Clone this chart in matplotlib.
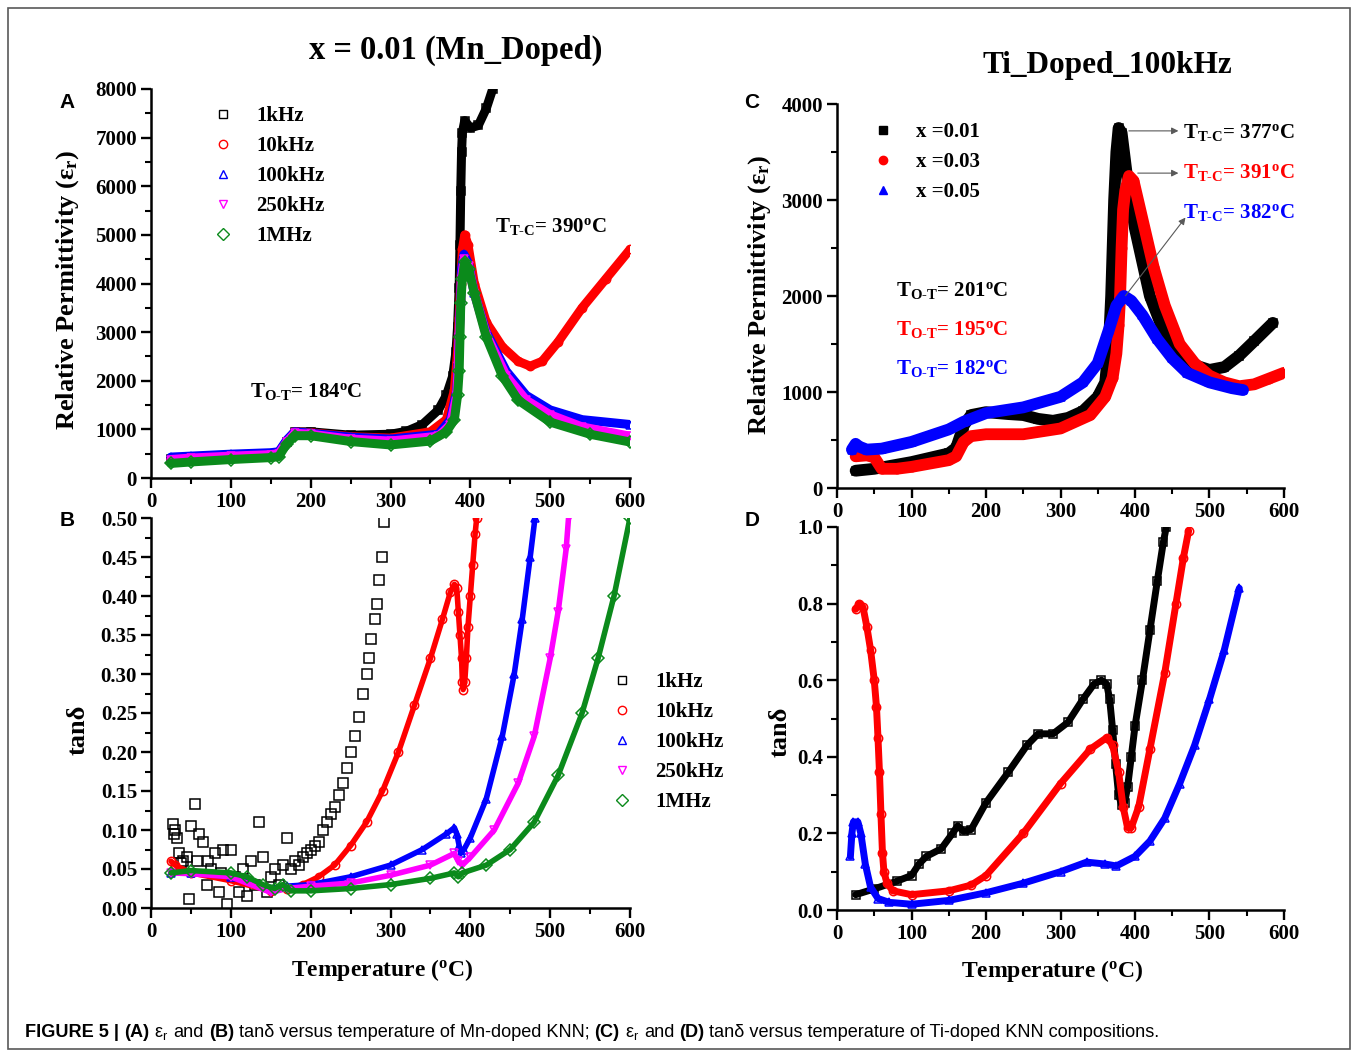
import matplotlib
matplotlib.use('Agg')
import matplotlib.pyplot as plt
from matplotlib.ticker import MultipleLocator, FormatStrFormatter
from matplotlib.lines import Line2D
from matplotlib.patches import Rectangle
from matplotlib import font_manager

plt.rcParams['font.family'] = 'Liberation Serif'
plt.rcParams['font.weight'] = 'bold'
plt.rcParams['mathtext.default'] = 'regular'

W, H = 1357, 1051

## ---- panel A : relative permittivity, Mn doped, five frequencies ----
A_T_1k = [25, 50, 100, 150, 160, 170, 180, 200, 250, 300, 320, 340, 360, 370, 378, 382, 384, 386, 387, 388, 389, 390, 393, 400, 410, 420, 428]
A_E_1k = [400, 430, 470, 490, 520, 750, 950, 950, 880, 900, 960, 1100, 1400, 1700, 2100, 2600, 3100, 3900, 4800, 5900, 6700, 7100, 7350, 7200, 7250, 7600, 8000]
A_T_10k = [25, 50, 100, 150, 160, 170, 180, 200, 250, 300, 350, 370, 380, 384, 386, 388, 390, 393, 397, 405, 420, 440, 460, 475, 490, 510, 540, 570, 600]
A_E_10k = [380, 410, 460, 490, 520, 760, 950, 930, 850, 820, 950, 1200, 1800, 2600, 3300, 4000, 4700, 5000, 4800, 4000, 3200, 2700, 2400, 2300, 2400, 2800, 3500, 4100, 4700]
A_T_100k = [25, 50, 100, 150, 160, 170, 180, 200, 250, 300, 360, 375, 383, 385, 386, 388, 389, 392, 398, 405, 420, 445, 470, 500, 540, 600]
A_E_100k = [430, 450, 490, 520, 540, 780, 950, 920, 840, 800, 900, 1200, 1800, 2400, 3000, 3700, 4300, 4600, 4400, 3800, 3000, 2200, 1700, 1400, 1200, 1100]
A_T_250k = [25, 50, 100, 150, 160, 170, 180, 200, 250, 300, 360, 375, 383, 385, 386, 388, 389, 392, 398, 405, 420, 445, 470, 500, 540, 600]
A_E_250k = [380, 410, 450, 480, 500, 740, 920, 900, 800, 760, 860, 1100, 1700, 2300, 2900, 3600, 4100, 4500, 4350, 3800, 2950, 2100, 1600, 1300, 1050, 860]
A_T_1M = [25, 50, 100, 150, 160, 170, 180, 200, 250, 300, 350, 370, 380, 384, 386, 387, 388, 390, 393, 398, 405, 420, 440, 460, 500, 550, 600]
A_E_1M = [300, 330, 380, 420, 440, 700, 870, 870, 750, 680, 760, 950, 1200, 1700, 2200, 2900, 3600, 4100, 4450, 4300, 3800, 2900, 2100, 1600, 1150, 900, 740]

## ---- panel B : tan delta, Mn doped ----
B_T_1k = [27, 29, 30, 32, 35, 38, 40, 45, 48, 50, 55, 58, 60, 65, 70, 72, 75, 80, 85, 88, 90, 95, 100, 105, 110, 115, 120, 125,
          130, 135, 140, 145, 150, 155, 160, 165, 170, 175, 180, 185, 190, 195, 200, 205, 210, 215, 220, 225, 230, 235, 240,
          245, 250, 255, 260, 265, 270, 273, 276, 280, 283, 286, 289, 292]
B_V_1k = [0.108, 0.095, 0.1, 0.09, 0.07, 0.058, 0.06, 0.065, 0.012, 0.105, 0.133, 0.06, 0.095, 0.085, 0.03, 0.06, 0.05, 0.07, 0.02,
          0.045, 0.075, 0.005, 0.075, 0.04, 0.02, 0.05, 0.015, 0.06, 0.03, 0.11, 0.065, 0.02, 0.04, 0.05, 0.03, 0.055, 0.09,
          0.05, 0.06, 0.055, 0.065, 0.07, 0.075, 0.08, 0.085, 0.1, 0.11, 0.12, 0.13, 0.145, 0.16, 0.18, 0.2, 0.22, 0.245,
          0.275, 0.3, 0.32, 0.345, 0.37, 0.39, 0.42, 0.45, 0.495]
B_T_10k = [25, 30, 50, 100, 150, 170, 190, 210, 230, 250, 270, 290, 310, 330, 350, 365, 375, 380, 383, 385, 387, 389, 390, 391,
           393, 395, 397, 400, 403, 406, 408]
B_V_10k = [0.06, 0.055, 0.045, 0.035, 0.022, 0.025, 0.03, 0.04, 0.055, 0.08, 0.11, 0.15, 0.2, 0.26, 0.32, 0.37, 0.405, 0.415,
           0.41, 0.38, 0.35, 0.32, 0.29, 0.28, 0.29, 0.32, 0.36, 0.4, 0.44, 0.48, 0.5]
B_T_100k = [25, 50, 100, 150, 170, 200, 250, 300, 340, 370, 380, 383, 386, 388, 392, 400, 420, 440, 455, 465, 475, 481]
B_V_100k = [0.045, 0.045, 0.04, 0.025, 0.028, 0.03, 0.04, 0.055, 0.075, 0.095, 0.103, 0.095, 0.08, 0.07, 0.075, 0.09, 0.14,
            0.22, 0.3, 0.37, 0.45, 0.5]
B_T_250k = [25, 50, 100, 150, 170, 200, 250, 300, 350, 380, 385, 390, 400, 430, 460, 480, 500, 510, 520, 523]
B_V_250k = [0.045, 0.044, 0.04, 0.02, 0.025, 0.028, 0.032, 0.042, 0.055, 0.07, 0.06, 0.055, 0.065, 0.1, 0.16, 0.22, 0.32,
            0.38, 0.46, 0.5]
B_T_1M = [25, 50, 100, 120, 140, 155, 165, 175, 200, 250, 300, 350, 380, 385, 390, 420, 450, 480, 510, 540, 560, 580, 600]
B_V_1M = [0.045, 0.048, 0.045, 0.04, 0.03, 0.025, 0.03, 0.022, 0.022, 0.025, 0.03, 0.038, 0.045, 0.04, 0.045, 0.055, 0.075,
          0.11, 0.17, 0.25, 0.32, 0.4, 0.5]

## ---- panel C : relative permittivity, Ti doped, 100 kHz ----
C_T_01 = [25, 50, 100, 150, 160, 170, 180, 200, 230, 250, 270, 290, 310, 330, 350, 360, 365, 368, 370, 372, 375, 378, 382,
          390, 400, 420, 440, 460, 480, 500, 520, 540, 560, 585]
C_E_01 = [180, 200, 270, 360, 420, 650, 760, 790, 770, 760, 720, 700, 730, 800, 950, 1100, 1500, 2000, 2500, 3000, 3500, 3750,
          3700, 3200, 2700, 2000, 1600, 1400, 1280, 1230, 1260, 1380, 1530, 1720]
C_T_03 = [25, 40, 50, 60, 80, 100, 150, 160, 170, 180, 200, 250, 300, 340, 360, 370, 375, 378, 380, 382, 384, 387, 392, 398,
          410, 425, 440, 460, 480, 500, 520, 540, 560, 580, 600]
C_E_03 = [330, 340, 320, 200, 200, 220, 290, 330, 480, 540, 560, 560, 620, 760, 950, 1150, 1400, 1700, 2000, 2500, 2900, 3100,
          3250, 3200, 2800, 2300, 1900, 1500, 1300, 1170, 1100, 1060, 1080, 1140, 1200]
C_T_05 = [20, 25, 30, 40, 60, 100, 150, 170, 200, 250, 300, 330, 350, 365, 375, 385, 395, 410, 430, 450, 470, 500, 530, 545]
C_E_05 = [400, 460, 430, 400, 410, 480, 610, 690, 780, 840, 950, 1100, 1300, 1650, 1900, 2000, 1950, 1800, 1550, 1350, 1200,
          1100, 1040, 1020]

## ---- panel D : tan delta, Ti doped ----
D_T_01 = [25, 50, 80, 100, 110, 120, 140, 155, 162, 170, 180, 200, 230, 255, 270, 290, 310, 330, 345, 355, 362, 366, 370, 374,
          378, 382, 386, 390, 395, 400, 410, 420, 430, 438, 442]
D_V_01 = [0.04, 0.055, 0.075, 0.09, 0.12, 0.14, 0.16, 0.2, 0.22, 0.205, 0.21, 0.28, 0.36, 0.43, 0.46, 0.46, 0.49, 0.55, 0.59,
          0.6, 0.59, 0.55, 0.47, 0.38, 0.3, 0.275, 0.28, 0.32, 0.4, 0.48, 0.6, 0.73, 0.86, 0.96, 1.0]
D_T_03 = [25, 30, 35, 40, 45, 50, 53, 55, 57, 59, 61, 63, 67, 75, 100, 150, 180, 200, 250, 300, 340, 362, 370, 378, 384, 390,
          395, 405, 420, 440, 455, 465, 472]
D_V_03 = [0.785, 0.8, 0.79, 0.74, 0.68, 0.6, 0.53, 0.45, 0.36, 0.25, 0.15, 0.1, 0.07, 0.05, 0.04, 0.05, 0.065, 0.09, 0.2, 0.33,
          0.42, 0.45, 0.43, 0.36, 0.27, 0.215, 0.215, 0.27, 0.42, 0.62, 0.8, 0.92, 0.99]
D_T_05 = [18, 20, 22, 28, 32, 38, 45, 55, 70, 100, 150, 200, 250, 300, 335, 360, 375, 400, 420, 440, 460, 480, 500, 520, 540]
D_V_05 = [0.14, 0.2, 0.23, 0.23, 0.2, 0.12, 0.06, 0.03, 0.02, 0.015, 0.025, 0.045, 0.07, 0.1, 0.125, 0.12, 0.115, 0.14, 0.18,
          0.24, 0.33, 0.43, 0.55, 0.68, 0.84]

freq_labels = ['1kHz', '10kHz', '100kHz', '250kHz', '1MHz']
freq_colors = ['black', 'red', 'blue', 'magenta', '#0b8a1b']
freq_markers = ['s', 'o', '^', 'v', 'D']
comp_labels = ['x =0.01', 'x =0.03', 'x =0.05']
comp_colors = ['black', 'red', 'blue']
comp_markers = ['s', 'o', '^']


def box(left, top, right, bottom):  # pixel box -> figure fraction
    return [left / W, 1 - bottom / H, (right - left) / W, (bottom - top) / H]


def style(ax, ymaj, ymin, ylim, fmt):
    ax.set_xlim(0, 600)
    ax.set_ylim(*ylim)
    for s in ['top', 'right']:
        ax.spines[s].set_visible(False)
    for s in ['left', 'bottom']:
        ax.spines[s].set_linewidth(1.8)
    ax.xaxis.set_major_locator(MultipleLocator(100))
    ax.xaxis.set_minor_locator(MultipleLocator(50))
    ax.yaxis.set_major_locator(MultipleLocator(ymaj))
    ax.yaxis.set_minor_locator(MultipleLocator(ymin))
    ax.yaxis.set_major_formatter(FormatStrFormatter(fmt))
    ax.tick_params(which='major', direction='out', length=7, width=1.7, labelsize=15, pad=3)
    ax.tick_params(which='minor', direction='out', length=4, width=1.5)


def trace(ax, t, v, color, marker, lw, ms, filled=False, band=True):
    if band:
        ax.plot(t, v, '-', color=color, lw=lw, solid_capstyle='round', solid_joinstyle='round')
    ax.plot(t, v, ls='none', marker=marker, ms=ms, mec=color, mew=1.1,
            mfc=color if filled else 'none')


def legend(ax, handles, labels, anchor):
    ax.legend(handles, labels, loc='upper left', bbox_to_anchor=anchor, frameon=False, fontsize=15,
              handlelength=0.8, handletextpad=1.2, labelspacing=0.48, borderaxespad=0)


fig = plt.figure(figsize=(W / 100, H / 100), dpi=100)
fig.patches.append(Rectangle((8 / W, 1 - 1049 / H), 1342 / W, 1041 / H, transform=fig.transFigure,
                             fill=False, ec='0.35', lw=1.2))

axA = fig.add_axes(box(151, 89, 630, 478))
axB = fig.add_axes(box(151, 518, 630, 908))
axC = fig.add_axes(box(837, 104, 1284, 488))
axD = fig.add_axes(box(837, 527, 1284, 910))

# A
A_T = [A_T_1k, A_T_10k, A_T_100k, A_T_250k, A_T_1M]
A_E = [A_E_1k, A_E_10k, A_E_100k, A_E_250k, A_E_1M]
for t, v, c, m in zip(A_T, A_E, freq_colors, freq_markers):
    trace(axA, t, v, c, m, 6.5, 6)
style(axA, 1000, 500, (0, 8000), '%d')
hA = [Line2D([], [], ls='none', marker=m, mec=c, mfc='none', ms=6, mew=1) for c, m in zip(freq_colors, freq_markers)]
legend(axA, hA, freq_labels, (0.115, 0.977))
axA.text(124, 1770, 'T$_{O‐T}$= 184$^{o}$C', fontsize=15, va='center')
axA.text(431, 5180, 'T$_{T‐C}$= 390$^{o}$C', fontsize=15, va='center')

# B
trace(axB, B_T_1k, B_V_1k, 'black', 's', 0, 7, band=False)
B_T = [B_T_10k, B_T_100k, B_T_250k, B_T_1M]
B_V = [B_V_10k, B_V_100k, B_V_250k, B_V_1M]
for t, v, c, m in zip(B_T, B_V, freq_colors[1:], freq_markers[1:]):
    trace(axB, t, v, c, m, 4, 6)
style(axB, 0.05, 0.025, (0, 0.5), '%.2f')
legend(axB, hA, freq_labels, (0.948, 0.627))

# C
C_T = [C_T_01, C_T_03, C_T_05]
C_E = [C_E_01, C_E_03, C_E_05]
for t, v, c, m in zip(C_T, C_E, comp_colors, comp_markers):
    trace(axC, t, v, c, m, 8.5, 6, filled=True)
style(axC, 1000, 500, (0, 4000), '%d')
hC = [Line2D([], [], ls='none', marker=m, mec=c, mfc=c, ms=6) for c, m in zip(comp_colors, comp_markers)]
legend(axC, hC, comp_labels, (0.065, 0.975))
arrow = dict(arrowstyle='-|>', color='0.35', lw=0.8, mutation_scale=10)
axC.annotate('', xy=(462, 3720), xytext=(388, 3720), arrowprops=arrow)
axC.annotate('', xy=(462, 3280), xytext=(400, 3280), arrowprops=arrow)
axC.annotate('', xy=(470, 2840), xytext=(385, 1980), arrowprops=arrow)
axC.text(465, 3700, 'T$_{T‐C}$= 377$^{o}$C', fontsize=15, va='center', color='black')
axC.text(465, 3290, 'T$_{T‐C}$= 391$^{o}$C', fontsize=15, va='center', color='red')
axC.text(465, 2870, 'T$_{T‐C}$= 382$^{o}$C', fontsize=15, va='center', color='blue')
axC.text(79, 2060, 'T$_{O‐T}$= 201$^{o}$C', fontsize=15, va='center', color='black')
axC.text(79, 1650, 'T$_{O‐T}$= 195$^{o}$C', fontsize=15, va='center', color='red')
axC.text(79, 1240, 'T$_{O‐T}$= 182$^{o}$C', fontsize=15, va='center', color='blue')

# D
D_T = [D_T_01, D_T_03, D_T_05]
D_V = [D_V_01, D_V_03, D_V_05]
for t, v, c, m in zip(D_T, D_V, comp_colors, comp_markers):
    trace(axD, t, v, c, m, 5, 6)
style(axD, 0.2, 0.1, (0, 1.0), '%.1f')

# axis labels, titles, panel letters
lab = dict(fontsize=17, ha='center', va='center')
ylab = dict(fontsize=19, ha='center', va='center', rotation=90)
fig.text(68 / W, 1 - 290 / H, 'Relative Permittivity (ε$_{r}$)', **ylab)
fig.text(78 / W, 1 - 730 / H, 'tanδ', **ylab)
fig.text(760 / W, 1 - 295 / H, 'Relative Permittivity (ε$_{r}$)', **ylab)
fig.text(780 / W, 1 - 732 / H, 'tanδ', **ylab)
fig.text(382 / W, 1 - 970 / H, 'Temperature ($^{o}$C)', **lab)
fig.text(1052 / W, 1 - 971 / H, 'Temperature ($^{o}$C)', **lab)
fig.text(456 / W, 1 - 50 / H, 'x = 0.01 (Mn_Doped)', fontsize=23.5, ha='center', va='center')
fig.text(1107 / W, 1 - 66 / H, 'Ti_Doped_100kHz', fontsize=22.5, ha='center', va='center')
for ch, x, y in [('A', 67, 102), ('B', 67, 520), ('C', 752, 103), ('D', 752, 521)]:
    fig.text(x / W, 1 - y / H, ch, fontsize=15, family='Liberation Sans', ha='center', va='center')

# caption, pieced together so the bold parts line up
names = {f.name for f in font_manager.fontManager.ttflist}
cap_font = 'Liberation Sans Narrow' if 'Liberation Sans Narrow' in names else 'Liberation Sans'
pieces = [('FIGURE 5 |', 'bold'), ('(A)', 'bold'), ('ε$_{r}$', 'normal'), ('and', 'normal'), ('(B)', 'bold'),
          ('tanδ versus temperature of Mn-doped KNN;', 'normal'), ('(C)', 'bold'), ('ε$_{r}$', 'normal'),
          ('and', 'normal'), ('(D)', 'bold'), ('tanδ versus temperature of Ti-doped KNN compositions.', 'normal')]
r = fig.canvas.get_renderer()


def width(s, w, size):
    t = fig.text(0, 0, s, family=cap_font, fontweight=w, fontsize=size)
    wd = t.get_window_extent(renderer=r).width
    t.remove()
    return wd


def caption_width(size):
    gap = width('x x', 'normal', size) - width('xx', 'normal', size)
    return sum(width(s, w, size) for s, w in pieces) + gap * (len(pieces) - 1), gap


total, _ = caption_width(12)
cap_size = 12 * 1137 / total
_, gap = caption_width(cap_size)
x = 25
for s, w in pieces:
    t = fig.text(x / W, 1 - 1037 / H, s, family=cap_font, fontweight=w, fontsize=cap_size, va='baseline')
    x += t.get_window_extent(renderer=r).width + gap

fig.savefig('out.png', dpi=100)
